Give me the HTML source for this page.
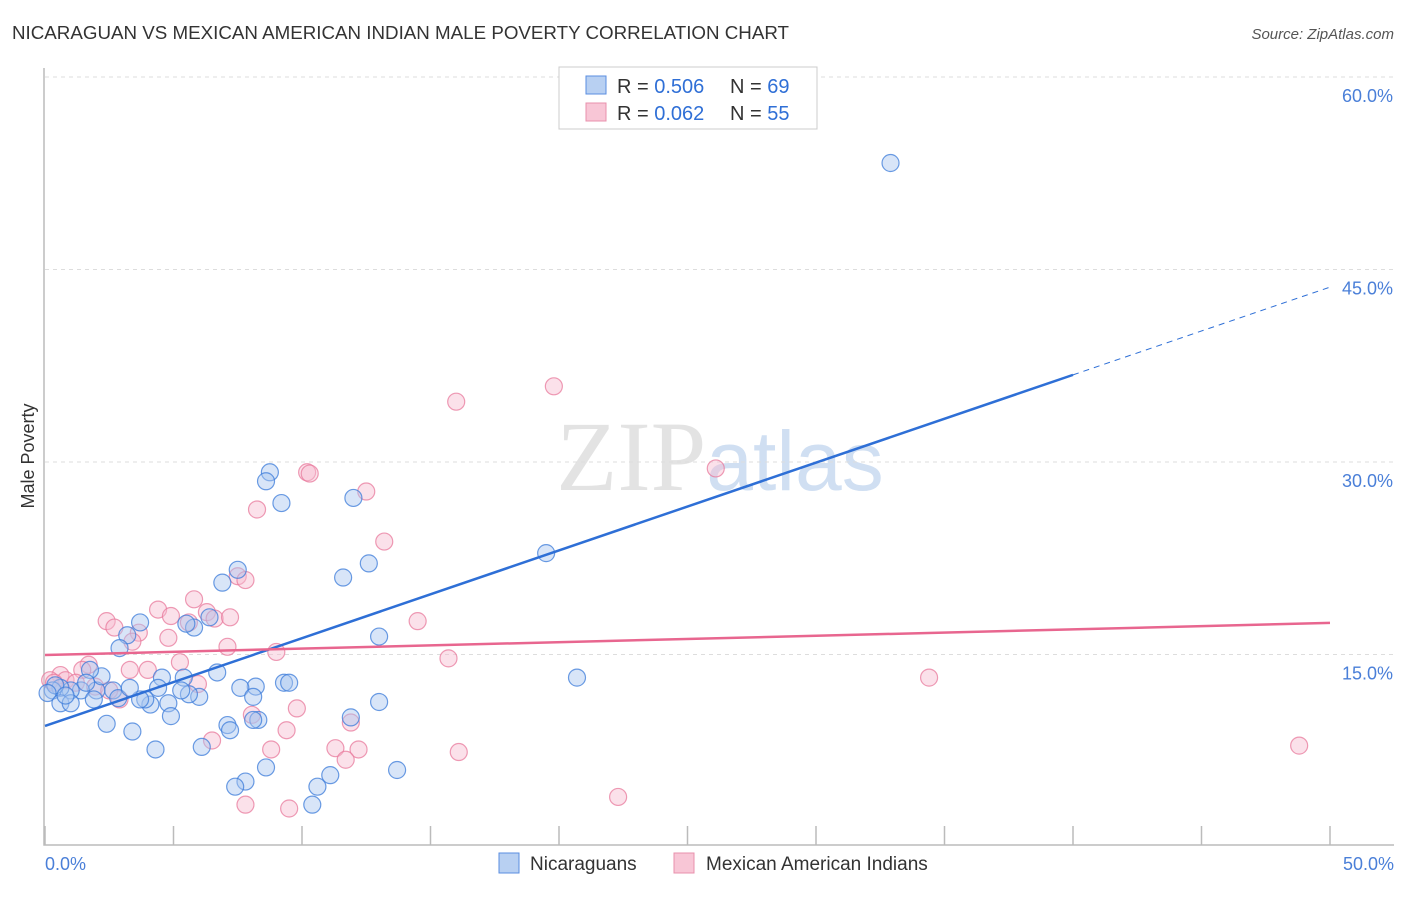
<!DOCTYPE html>
<html><head><meta charset="utf-8"><style>
body{margin:0;background:#fff;font-family:"Liberation Sans",sans-serif}
</style></head><body>
<svg id="c" width="1406" height="892" xmlns="http://www.w3.org/2000/svg" font-family="Liberation Sans, sans-serif">
<text x="12" y="39" font-size="18" fill="#333" textLength="777" lengthAdjust="spacingAndGlyphs">NICARAGUAN VS MEXICAN AMERICAN INDIAN MALE POVERTY CORRELATION CHART</text>
<text x="1394" y="39" font-size="15" fill="#555" font-style="italic" text-anchor="end">Source: ZipAtlas.com</text>
<text x="720" y="490" font-size="100" fill="#ddd" text-anchor="middle" font-family="Liberation Serif, serif" opacity="0.8">ZIP<tspan fill="#c5d8f0" font-family="Liberation Sans, sans-serif" font-size="84">atlas</tspan></text>
<text transform="translate(34,456) rotate(-90)" font-size="18" fill="#333" text-anchor="middle">Male Poverty</text>
<g id="grid"></g><g id="axes"></g><g id="marks"></g><g id="trends"></g>
<g>
<rect x="559" y="67" width="258" height="62" fill="#fff" stroke="#ccc"/>
<rect x="586" y="76" width="20" height="18" fill="#b8d0f2" stroke="#5a8ee0"/>
<rect x="586" y="103" width="20" height="18" fill="#f8c6d6" stroke="#e890ac"/>
<text x="617" y="93" font-size="20" fill="#333">R = <tspan fill="#2f6fd6">0.506</tspan></text>
<text x="730" y="93" font-size="20" fill="#333">N = <tspan fill="#2f6fd6">69</tspan></text>
<text x="617" y="120" font-size="20" fill="#333">R = <tspan fill="#2f6fd6">0.062</tspan></text>
<text x="730" y="120" font-size="20" fill="#333">N = <tspan fill="#2f6fd6">55</tspan></text>
</g>
<g>
<rect x="499" y="853" width="20" height="20" fill="#b8d0f2" stroke="#5a8ee0"/>
<text x="530" y="870" font-size="19" fill="#333">Nicaraguans</text>
<rect x="674" y="853" width="20" height="20" fill="#f8c6d6" stroke="#e890ac"/>
<text x="706" y="870" font-size="19" fill="#333">Mexican American Indians</text>
</g>
</svg>
<script>
const yTicks=[15,30,45,60];
const yTickLabels=["15.0%","30.0%","45.0%","60.0%"];
const xTicks=[0,5,10,15,20,25,30,35,40,45,50];
const blueX=[32.9,8.75,8.6,9.2,12.0,19.5,12.6,11.6,7.5,6.9,13.0,6.4,5.8,5.5,3.7,3.2,2.9,6.7,20.7,9.3,8.2,7.6,8.1,6.0,5.6,5.4,5.3,4.55,4.4,4.8,4.1,3.9,3.7,4.9,2.65,2.85,2.0,2.2,1.75,1.4,1.0,0.6,0.3,0.4,0.1,0.6,1.0,13.0,11.9,7.1,7.2,8.3,2.4,3.4,4.3,6.1,13.7,8.6,7.8,7.4,11.1,10.6,10.4,9.5,8.1,3.3,1.6,0.8,1.9];
const blueY=[53.3,29.2,28.5,26.8,27.2,22.9,22.1,21.0,21.6,20.6,16.4,17.9,17.1,17.4,17.5,16.5,15.5,13.6,13.2,12.8,12.5,12.4,11.7,11.7,11.9,13.2,12.2,13.2,12.4,11.2,11.1,11.5,11.5,10.2,12.2,11.6,12.2,13.3,13.8,12.2,12.2,12.4,12.2,12.6,12.0,11.2,11.2,11.3,10.1,9.5,9.1,9.9,9.6,9.0,7.6,7.8,6.0,6.2,5.1,4.7,5.6,4.7,3.3,12.8,9.9,12.4,12.8,11.8,11.5];
const pinkX=[19.8,16.0,26.1,10.2,10.3,12.5,8.25,13.2,7.5,5.8,4.4,4.9,6.3,6.6,7.2,2.4,2.7,3.65,3.4,5.6,4.8,7.1,14.5,15.7,9.0,5.25,4.0,3.3,1.7,1.45,0.6,0.8,1.2,1.95,5.95,0.2,2.9,9.8,11.9,8.05,9.4,6.5,8.8,11.3,12.2,16.1,11.7,34.4,48.8,22.3,7.8,9.5,0.35,2.5,7.8];
const pinkY=[35.9,34.7,29.5,29.2,29.1,27.7,26.3,23.8,21.1,19.3,18.5,18.0,18.3,17.8,17.9,17.6,17.1,16.7,16.0,17.5,16.3,15.6,17.6,14.7,15.2,14.4,13.8,13.8,14.2,13.8,13.4,13.0,12.8,12.5,12.7,13.0,11.5,10.8,9.7,10.3,9.1,8.3,7.6,7.7,7.6,7.4,6.8,13.2,7.9,3.9,3.3,3.0,12.8,12.2,20.8];
const blueTrend=[9.43,0.684]; // intercept, slope
const pinkTrend=[14.96,0.05];
const NS="http://www.w3.org/2000/svg";
const sx=v=>45+v*25.7, sy=v=>847-v*12.833;
function mk(t,a,p){const e=document.createElementNS(NS,t);for(const k in a)e.setAttribute(k,a[k]);document.getElementById(p).appendChild(e);return e;}
yTicks.forEach((v,i)=>{
 const l=mk('line',{x1:45,x2:1394,y1:sy(v),y2:sy(v),stroke:'#ddd','stroke-dasharray':'4,4'},'grid');
 
 
 const t=mk('text',{x:1393,y:sy(v)+25,'font-size':18,fill:'#4a7fd8','text-anchor':'end'},'axes');
 t.textContent=yTickLabels[i];
 
 
});
const ax=mk('path',{d:'M44,68V845H1394',stroke:'#bbb',fill:'none','stroke-width':1.5},'axes');


xTicks.forEach(v=>{
 const l=mk('line',{x1:sx(v),x2:sx(v),y1:826,y2:845,stroke:'#bbb','stroke-width':1.5},'axes');
 
 
});
[["0.0%",45,'start'],["50.0%",1394,'end']].forEach(a=>{
 const t=mk('text',{x:a[1],y:870,'font-size':18,fill:'#4a7fd8','text-anchor':a[2]},'axes');
 t.textContent=a[0];
 
 
});
function pts(X,Y,fill,stroke,name){X.forEach((x,i)=>{
 const c=mk('circle',{cx:sx(x),cy:sy(Y[i]),r:8.5,fill:fill,'fill-opacity':0.45,stroke:stroke,'stroke-width':1.2,'stroke-opacity':0.75},'marks');
 
 
});}
pts(pinkX,pinkY,'#f7bcd0','#e8799c','mexican-american-indian-point');
pts(blueX,blueY,'#a8c6f0','#3b7bd9','nicaraguan-point');
const f=(t,x)=>t[0]+t[1]*x;
let l=mk('line',{x1:sx(0),y1:sy(f(blueTrend,0)),x2:sx(40),y2:sy(f(blueTrend,40)),stroke:'#2e6fd6','stroke-width':2.5},'trends');


l=mk('line',{x1:sx(40),y1:sy(f(blueTrend,40)),x2:sx(50),y2:sy(f(blueTrend,50)),stroke:'#2e6fd6','stroke-width':1,'stroke-dasharray':'6,5'},'trends');


l=mk('line',{x1:sx(0),y1:sy(f(pinkTrend,0)),x2:sx(50),y2:sy(f(pinkTrend,50)),stroke:'#e8668f','stroke-width':2.5},'trends');


</script>
</body></html>
